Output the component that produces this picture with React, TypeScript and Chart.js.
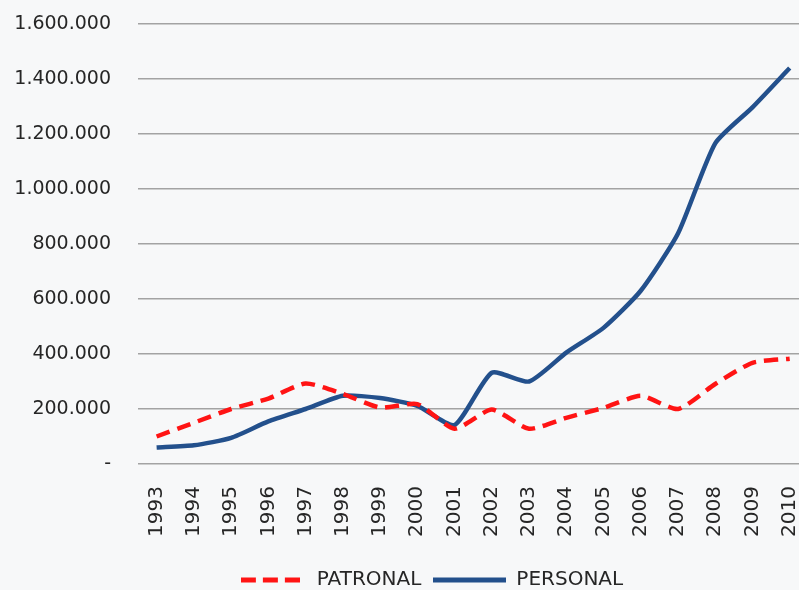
import React, { useEffect, useRef } from 'react';
import { Chart, registerables } from 'chart.js';

Chart.register(...registerables);

const years = [1993, 1994, 1995, 1996, 1997, 1998, 1999, 2000, 2001, 2002, 2003, 2004, 2005, 2006, 2007, 2008, 2009, 2010];
const patronal = [100000, 150000, 200000, 238000, 293000, 255000, 205000, 218000, 128000, 198000, 128000, 168000, 204000, 248000, 200000, 291000, 368000, 383000];
const personal = [60000, 68000, 95000, 155000, 200000, 248000, 240000, 211000, 142000, 332000, 300000, 405000, 495000, 630000, 838000, 1166000, 1297000, 1440000];
const yTicks = [0, 200000, 400000, 600000, 800000, 1000000, 1200000, 1400000, 1600000];
const seriesNames = ['PATRONAL', 'PERSONAL'];

const RED = '#ff1414';
const BLUE = '#23508c';

function fmt(v: number): string {
  if (v === 0) return '-';
  return String(v).replace(/\B(?=(\d{3})+(?!\d))/g, '.');
}

function makeLegendImage(color: string, width: number, dash: number[]): HTMLCanvasElement {
  const c = document.createElement('canvas');
  c.width = width;
  c.height = 6;
  const ctx = c.getContext('2d')!;
  ctx.strokeStyle = color;
  ctx.lineWidth = 5;
  ctx.setLineDash(dash);
  ctx.beginPath();
  ctx.moveTo(0, 3);
  ctx.lineTo(width, 3);
  ctx.stroke();
  return c;
}

const legendShift = {
  id: 'legendShift',
  afterLayout(chart: any) {
    const l = chart.legend;
    if (!l) return;
    l.left += 29;
    l.right += 29;
    l.top += 10;
    l.bottom += 10;
  },
};

export default function App() {
  const ref = useRef<HTMLCanvasElement | null>(null);

  useEffect(() => {
    if (!ref.current) return;
    const redImg = makeLegendImage(RED, 59, [15, 7]);
    const blueImg = makeLegendImage(BLUE, 73, []);
    const chart = new Chart(ref.current, {
      type: 'line',
      data: {
        datasets: [
          {
            label: seriesNames[0],
            data: years.map((x, i) => ({ x, y: patronal[i] })),
            borderColor: RED,
            backgroundColor: RED,
            borderWidth: 4.5,
            borderDash: [14, 8],
            pointRadius: 0,
            tension: 0.2,
          },
          {
            label: seriesNames[1],
            data: years.map((x, i) => ({ x, y: personal[i] })),
            borderColor: BLUE,
            backgroundColor: BLUE,
            borderWidth: 4.5,
            pointRadius: 0,
            tension: 0.2,
          },
        ],
      },
      options: {
        animation: false,
        responsive: true,
        maintainAspectRatio: false,
        events: [],
        layout: { autoPadding: false, padding: { top: 24, left: 0, right: 0, bottom: 0 } },
        scales: {
          x: {
            type: 'linear',
            min: 1992.5,
            max: 2010.25,
            afterBuildTicks: (s: any) => {
              s.ticks = years.map((v) => ({ value: v }));
            },
            afterFit: (s: any) => {
              s.paddingLeft = 0;
              s.paddingRight = 0;
              s.paddingTop = 0;
              s.paddingBottom = 0;
              s.height = 84;
            },
            grid: { display: false, drawTicks: false },
            border: { display: false },
            ticks: {
              autoSkip: false,
              minRotation: 90,
              maxRotation: 90,
              padding: 22,
              color: '#262626',
              font: { family: 'DejaVu Sans', size: 20 },
              callback: (v: any) => String(v),
            },
          },
          y: {
            min: 0,
            max: 1600000,
            afterBuildTicks: (s: any) => {
              s.ticks = yTicks.map((v) => ({ value: v }));
            },
            afterFit: (s: any) => {
              s.width = 138;
              s.paddingTop = 0;
              s.paddingBottom = 0;
            },
            grid: { color: '#a3a3a3', lineWidth: 1.5, drawTicks: false },
            border: { display: false },
            ticks: {
              padding: 27,
              color: '#262626',
              font: { family: 'DejaVu Sans', size: 19 },
              callback: (v: any) => fmt(Number(v)),
            },
          },
        },
        plugins: {
          tooltip: { enabled: false },
          legend: {
            position: 'bottom',
            labels: {
              usePointStyle: true,
              pointStyleWidth: 73,
              padding: 12,
              color: '#262626',
              font: { family: 'DejaVu Sans', size: 20 },
              generateLabels: () => [
                { text: seriesNames[0], pointStyle: redImg, fillStyle: RED, strokeStyle: RED, lineWidth: 0, datasetIndex: 0, fontColor: '#262626' },
                { text: seriesNames[1], pointStyle: blueImg, fillStyle: BLUE, strokeStyle: BLUE, lineWidth: 0, datasetIndex: 1, fontColor: '#262626' },
              ] as any,
            },
          },
        },
      } as any,
      plugins: [legendShift],
    });
    return () => chart.destroy();
  }, []);

  return (
    <div style={{ position: 'absolute', left: 0, top: 0, width: 799, height: 590, background: '#f7f8f9' }}>
      <canvas ref={ref} />
    </div>
  );
}
